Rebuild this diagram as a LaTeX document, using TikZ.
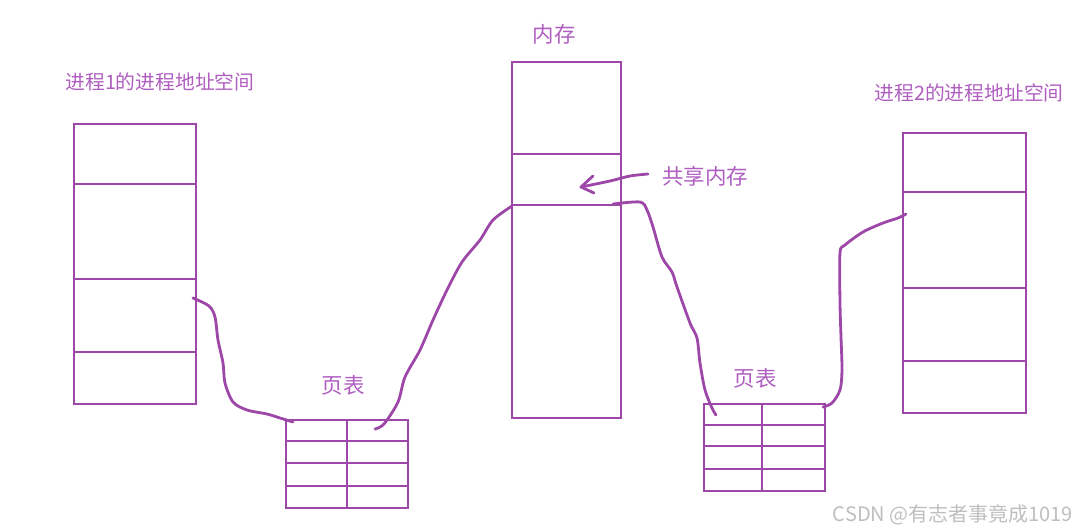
\documentclass[tikz,border=0pt]{standalone}
\usepackage{fontspec}
\newfontfamily\cjk{Noto Sans CJK SC}
\definecolor{ln}{HTML}{9D47A8}
\definecolor{tx}{HTML}{AF5EC0}
\definecolor{wm}{HTML}{BEBEBE}
\tikzset{
  box/.style={draw=ln, line width=1.8pt, inner sep=0, outer sep=0},
  tline/.style={draw=ln, line width=2.3pt},
  pen/.style={draw=ln, line width=2.8pt, line cap=round, line join=round},
  lbl/.style={text=tx, font=\cjk\fontsize{21.5}{22}\selectfont, inner sep=0},
  plbl/.style={text=tx, font=\cjk\fontsize{19.8}{22}\selectfont, inner sep=0},
}
\begin{document}
\begin{tikzpicture}[x=1pt,y=-1pt]
\useasboundingbox (0,0) rectangle (1087,531);
% left process box
\node[box, anchor=north west, minimum width=122pt, minimum height=280pt] (L) at (74,124) {};
\foreach \yy in {184,279,352} \draw[box] (L.west |- 0,\yy) -- (L.east |- 0,\yy);
\node[plbl] (Llbl) at (160,82) {进程1的进程地址空间};
% memory box
\node[box, anchor=north west, minimum width=109pt, minimum height=356pt] (M) at (512,62) {};
\draw[box] (M.west |- 0,154) -- (M.east |- 0,154);
\draw[draw=ln, line width=2.6pt] (M.west |- 0,205) -- (M.east |- 0,205);
\node[lbl] (Mlbl) at (554,34) {内存};
\node[lbl] (Slbl) at (705,176) {共享内存};
% right process box
\node[box, anchor=north west, minimum width=123pt, minimum height=280pt] (R) at (903,133) {};
\foreach \yy in {192,288,361} \draw[box] (R.west |- 0,\yy) -- (R.east |- 0,\yy);
\node[plbl] (Rlbl) at (969,93) {进程2的进程地址空间};
% page table 1
\node[tline, anchor=north west, minimum width=122pt, minimum height=88pt, inner sep=0] (T1) at (285,419) {};
\draw[tline] (347,419) -- (347,507);
\foreach \yy in {441,463,486} \draw[tline] (T1.west |- 0,\yy) -- (T1.east |- 0,\yy);
\node[lbl] (T1lbl) at (343,385) {页表};
% page table 2
\node[tline, anchor=north west, minimum width=121pt, minimum height=87pt, inner sep=0] (T2) at (703,403) {};
\draw[tline] (762,403) -- (762,490);
\foreach \yy in {425,446,469} \draw[tline] (T2.west |- 0,\yy) -- (T2.east |- 0,\yy);
\node[lbl] (T2lbl) at (755,378) {页表};
% hand-drawn connectors
\draw[pen] plot[smooth, tension=0.5] coordinates {(193,298) (209,306) (215,317) (218,340) (223,363) (225,383) (233,402) (247,410) (267,414) (280,418) (293,422)};
\draw[pen] plot[smooth, tension=0.5] coordinates {(375,429) (384,424) (398,402) (405,377) (420,350) (433,320) (447,290) (462,262) (480,240) (493,220) (512,206)};
\draw[pen] plot[smooth, tension=0.5] coordinates {(613,204) (640,202) (647,210) (653,227) (662,257) (672,272) (677,287) (690,323) (697,338) (700,363) (705,390) (712,408) (716,415)};
\draw[pen] plot[smooth, tension=0.5] coordinates {(823,407) (832,403) (840,390) (842,370) (841,337) (840,303) (840,253) (845,245) (863,232) (883,223) (898,218) (906,214)};
% arrow to shared memory
\coordinate (tip) at (581,187);
\draw[pen] plot[smooth, tension=0.5] coordinates {(648,174) (630,176) (610,181) (581,187)};
\draw[pen] (593,176) -- (tip) -- (594,193);
% watermark
\node[text=wm, font=\cjk\fontsize{20}{20}\selectfont, inner sep=0] (wmk) at (953,515) {CSDN @有志者事竟成1019};
\end{tikzpicture}
\end{document}
